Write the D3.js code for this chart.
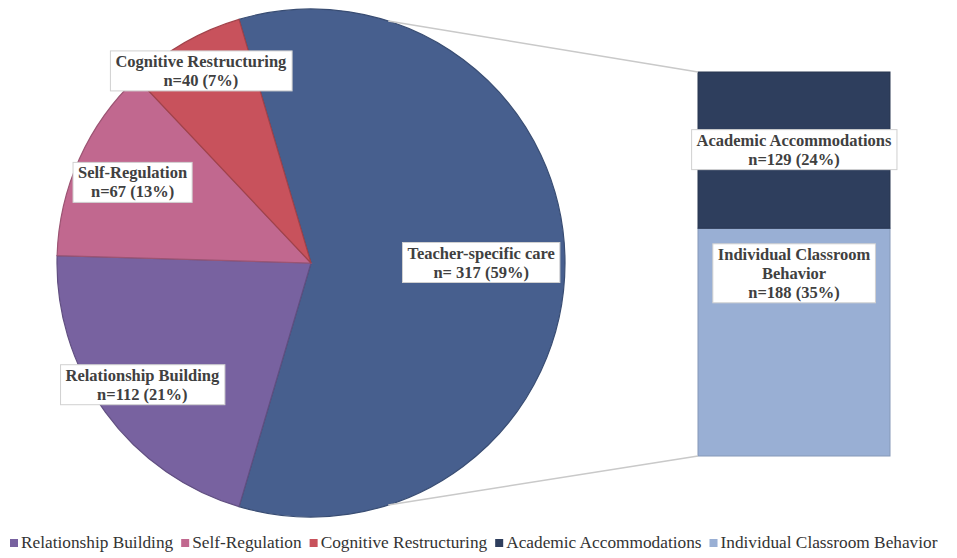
<!DOCTYPE html>
<html lang="en">
<head>
<meta charset="UTF-8">
<title>Pie of bar - care categories</title>
<script src="https://d3js.org/d3.v7.min.js"></script>
<style>
html, body { margin: 0; padding: 0; background: white; }
body { font-family: 'Liberation Serif', serif; }
.lbl text { font-size: 16.5px; font-weight: bold; fill: #404040; }
.lbl rect { fill: white; stroke: #d0d0d0; stroke-width: 1; }
.legend text { font-size: 17.3px; fill: #333333; }
.connector { stroke: #c9c9c9; stroke-width: 1.5; fill: none; }
</style>
</head>
<body>
<div id="chart"></div>
<script>

// --------------------------------------
// Data
// --------------------------------------

var pieNames = ["Teacher-specific care", "Relationship Building", "Self-Regulation", "Cognitive Restructuring"];
var pieValues = [317, 112, 67, 40];
var pieLabels = [["Teacher-specific care", "n= 317 (59%)"],
                 ["Relationship Building", "n=112 (21%)"],
                 ["Self-Regulation", "n=67 (13%)"],
                 ["Cognitive Restructuring", "n=40 (7%)"]];
var pieColors = ["#475f8e", "#7862a0", "#c1688f", "#c8525c"];

var barNames = ["Individual Classroom Behavior", "Academic Accommodations"];
var barValues = [188, 129];
var barLabels = [["Individual Classroom", "Behavior", "n=188 (35%)"],
                 ["Academic Accommodations", "n=129 (24%)"]];
var barColors = ["#99afd4", "#2e3e5d"];

var legendNames = ["Relationship Building", "Self-Regulation", "Cognitive Restructuring",
                   "Academic Accommodations", "Individual Classroom Behavior"];
var legendColors = ["#7862a0", "#c1688f", "#c8525c", "#2e3e5d", "#99afd4"];

// --------------------------------------
// Size and layout
// --------------------------------------

var totalWidth = 957;
var totalHeight = 558;
var cx = 311, cy = 263, radius = 254;
var labelRadius = [0.67, 0.82, 0.77, 0.87];
var connectorOffset = 72.3 * Math.PI / 180;  // from the middle of the big slice
var bar = {x: 698, width: 192, top: 72, bottom: 456};
var barLabelPos = [0.2, 0.5];  // share of the segment from its top

var svg = d3.select("#chart")
  .append("svg")
  .attr("width", totalWidth)
  .attr("height", totalHeight);

// --------------------------------------
// Pie
// --------------------------------------

var total = d3.sum(pieValues);
var bigAngle = pieValues[0] / total * 2 * Math.PI;
var start = Math.PI / 2 - bigAngle / 2;

var pie = d3.pie()
  .sort(null)
  .startAngle(start)
  .endAngle(start + 2 * Math.PI);

var arcs = pie(pieValues);

var arc = d3.arc().innerRadius(0).outerRadius(radius);

var pieG = svg.append("g").attr("transform", `translate(${cx},${cy})`);

pieG.selectAll("path")
  .data(arcs)
  .enter()
  .append("path")
  .attr("d", arc)
  .attr("fill", (d, i) => pieColors[i])
  .attr("stroke", (d, i) => d3.color(pieColors[i]).darker(0.6))
  .attr("stroke-width", 1.2);

// --------------------------------------
// Bar (stacked, bottom to top)
// --------------------------------------

var yscale = d3.scaleLinear()
  .domain([0, d3.sum(barValues)])
  .range([bar.bottom, bar.top]);

var stacked = d3.cumsum(barValues);
var segs = barValues.map((v, i) => ({v: v, y0: stacked[i] - v, y1: stacked[i]}));

svg.append("g")
  .selectAll("rect")
  .data(segs)
  .enter()
  .append("rect")
  .attr("x", bar.x)
  .attr("width", bar.width)
  .attr("y", d => yscale(d.y1))
  .attr("height", d => yscale(d.y0) - yscale(d.y1))
  .attr("fill", (d, i) => barColors[i])
  .attr("stroke", (d, i) => d3.color(barColors[i]).darker(0.4))
  .attr("stroke-width", 1);

// --------------------------------------
// Connector lines
// --------------------------------------

var mid = Math.PI / 2;
var pts = [
  [mid - connectorOffset, yscale(d3.sum(barValues))],
  [mid + connectorOffset, yscale(0)]
];

svg.selectAll(".connector")
  .data(pts)
  .enter()
  .append("line")
  .attr("class", "connector")
  .attr("x1", d => cx + radius * Math.sin(d[0]))
  .attr("y1", d => cy - radius * Math.cos(d[0]))
  .attr("x2", bar.x)
  .attr("y2", d => d[1]);

// --------------------------------------
// Labels
// --------------------------------------

function boxLabel(x, y, lines) {
  var g = svg.append("g").attr("class", "lbl");
  var lh = 19;
  var rect = g.append("rect");
  var t = g.append("text").attr("text-anchor", "middle");
  lines.forEach((s, k) => {
    t.append("tspan")
      .attr("x", x)
      .attr("y", y + (k - (lines.length - 1) / 2) * lh + 5)
      .text(s);
  });
  var bb = t.node().getBBox();
  var padX = 5, padY = 1;
  rect.attr("x", bb.x - padX)
    .attr("y", bb.y - padY)
    .attr("width", bb.width + 2 * padX)
    .attr("height", bb.height + 2 * padY);
}

arcs.forEach((d, i) => {
  var a = (d.startAngle + d.endAngle) / 2;
  var r = radius * labelRadius[i];
  boxLabel(cx + r * Math.sin(a), cy - r * Math.cos(a), pieLabels[i]);
});

segs.forEach((d, i) => {
  var top = yscale(d.y1), bottom = yscale(d.y0);
  boxLabel(bar.x + bar.width / 2, top + (bottom - top) * barLabelPos[i], barLabels[i]);
});

// --------------------------------------
// Legend
// --------------------------------------

var legend = svg.append("g").attr("class", "legend");
var lx = 10, ly = 543;
legendNames.forEach((name, i) => {
  legend.append("rect")
    .attr("x", lx)
    .attr("y", ly - 4)
    .attr("width", 8)
    .attr("height", 8)
    .attr("fill", legendColors[i]);
  var t = legend.append("text")
    .attr("x", lx + 11)
    .attr("y", ly + 5)
    .text(name);
  lx += 11 + t.node().getComputedTextLength() + 8;
});

</script>
</body>
</html>
